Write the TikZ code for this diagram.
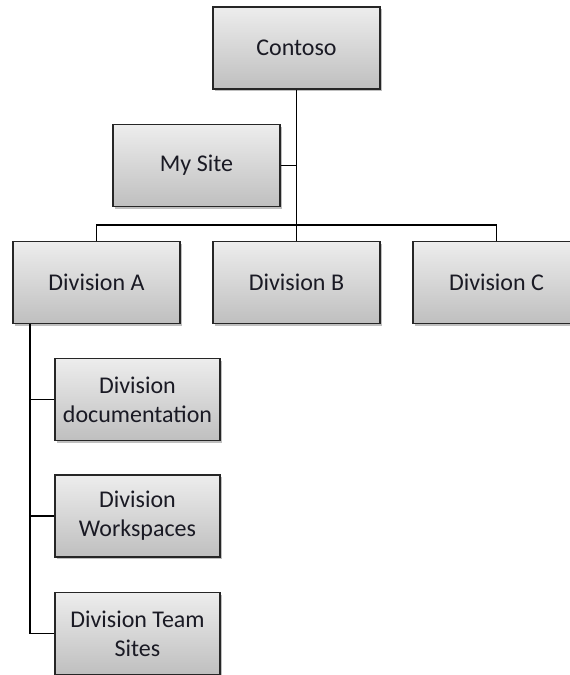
\documentclass[tikz,border=0pt]{standalone}
\usepackage{fontspec}
\setmainfont{Carlito}
\usetikzlibrary{shadows}
\definecolor{boxtop}{HTML}{EDEDED}
\definecolor{boxbot}{HTML}{BFBFBF}
\definecolor{edge}{HTML}{262626}
\definecolor{txt}{HTML}{1A1A24}
\tikzset{
  orgbox/.style={draw=edge, line width=1.3pt, top color=boxtop, bottom color=boxbot,
    minimum width=167pt, minimum height=82pt, inner sep=2pt, align=center,
    text=txt, font=\fontsize{24}{29}\selectfont,
    drop shadow={shadow xshift=2pt, shadow yshift=-2pt, opacity=0.25, fill=black}},
  link/.style={draw=black, line width=1.3pt}
}
\begin{document}
\begin{tikzpicture}[x=1pt, y=-1pt]
\useasboundingbox (0,0) rectangle (570,675);
% top level and side site
\node[orgbox] (contoso) at (296.5,48) {Contoso};
\node[orgbox] (mysite)  at (196.5,165.5) {My Site};
% divisions
\node[orgbox] (diva) at (96.5,282.5) {Division A};
\node[orgbox] (divb) at (296.5,282.5) {Division B};
\node[orgbox] (divc) at (496.5,282.5) {Division C};
% sites under Division A
\node[orgbox, minimum width=165pt] (docs) at (137.5,399.5) {Division\\documentation};
\node[orgbox, minimum width=165pt] (work) at (137.5,516) {Division\\Workspaces};
\node[orgbox, minimum width=165pt] (team) at (137.5,633.5) {Division Team\\Sites};
% connector bus
\coordinate (bus) at (296.5,225);
\draw[link] (contoso.south) -- (bus);
\draw[link] (mysite.east) -- (mysite.east -| bus);
\draw[link] (bus) -| (diva.north);
\draw[link] (bus) -| (divc.north);
\draw[link] (bus) -- (divb.north);
% Division A branches
\coordinate (trunk) at (30,323.5);
\draw[link] (trunk) |- (team.west);
\draw[link] (docs.west) -- (docs.west -| trunk);
\draw[link] (work.west) -- (work.west -| trunk);
\end{tikzpicture}
\end{document}
